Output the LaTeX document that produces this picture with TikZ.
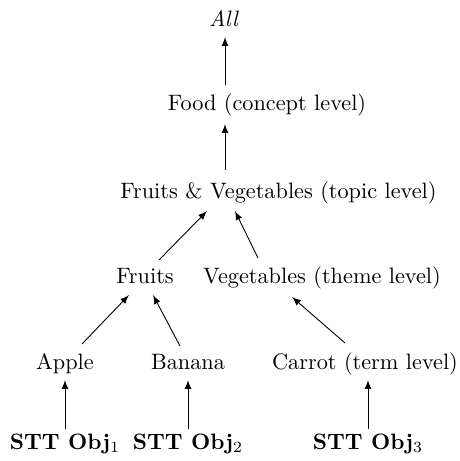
\documentclass[tikz,border=0pt]{standalone}
\usetikzlibrary{calc}
\begin{document}
\begin{tikzpicture}[x=0.449pt,y=-0.449pt,
  lbl/.style={anchor=base,inner sep=0pt},
  arr/.style={-latex}]
\useasboundingbox (0,0) rectangle (460,461);
\node[lbl] (all) at (224,26) {\textit{All}};
\node[lbl] (food) at (267,110) {Food (concept level)};
\node[lbl] (fv) at (278.5,198) {Fruits \& Vegetables (topic level)};
\node[lbl] (fruits) at (145,283) {Fruits};
\node[lbl] (veg) at (322,283) {Vegetables (theme level)};
\node[lbl] (apple) at (65,369) {Apple};
\node[lbl] (banana) at (188,369) {Banana};
\node[lbl] (carrot) at (365,369) {Carrot (term level)};
\node[lbl] (o1) at (65,449) {\textbf{STT Obj}$_1$};
\node[lbl] (o2) at (188,449) {\textbf{STT Obj}$_2$};
\node[lbl] (o3) at (368,449) {\textbf{STT Obj}$_3$};
\draw[arr] ($(o1.base)+(0,-20)$) -- ($(apple.base)+(0,11)$);
\draw[arr] ($(o2.base)+(0,-20)$) -- ($(banana.base)+(0,11)$);
\draw[arr] ($(o3.base)+(0,-20)$) -- ($(carrot.base)+(3,11)$);
\draw[arr] ($(apple.base)+(17,-25)$) -- ($(fruits.base)+(-16,12)$);
\draw[arr] ($(banana.base)+(-8,-23)$) -- ($(fruits.base)+(8,12)$);
\draw[arr] ($(carrot.base)+(-20,-26)$) -- ($(veg.base)+(-30,14)$);
\draw[arr] ($(fruits.base)+(14,-23)$) -- ($(fv.base)+(-71.5,13)$);
\draw[arr] ($(veg.base)+(-64,-25)$) -- ($(fv.base)+(-43.5,13)$);
\draw[arr] ($(fv.base)+(-53.5,-28)$) -- ($(food.base)+(-42,14)$);
\draw[arr] ($(food.base)+(-42,-25)$) -- ($(all.base)+(1,11)$);
\end{tikzpicture}
\end{document}
